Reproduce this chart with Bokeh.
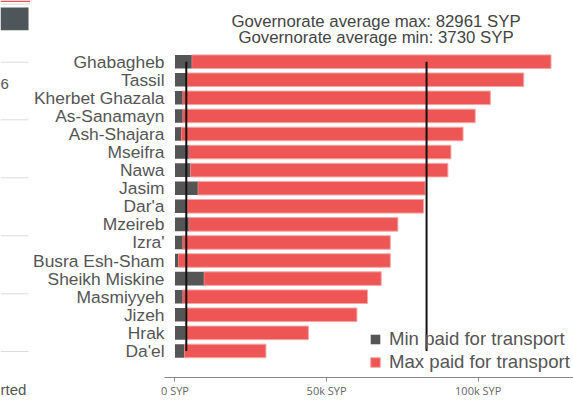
from bokeh.plotting import figure
from bokeh.layouts import row
from bokeh.models import (Range1d, FixedTicker, Label, Legend, LegendItem,
                          ColumnDataSource)
from bokeh.core.properties import value
from bokeh.embed import file_html
from bokeh.resources import INLINE

# ---------------- data ----------------
names = ["Ghabagheb", "Tassil", "Kherbet Ghazala", "As-Sanamayn", "Ash-Shajara",
         "Mseifra", "Nawa", "Jasim", "Dar'a", "Mzeireb", "Izra'",
         "Busra Esh-Sham", "Sheikh Miskine", "Masmiyyeh", "Jizeh", "Hrak", "Da'el"]
max_paid = [124000, 115000, 104000, 99000, 95000, 91000, 90000, 82500, 82000,
            73500, 71000, 71000, 68000, 63500, 60000, 44000, 30000]
min_paid = [5500, 4000, 2500, 2500, 2000, 4500, 5000, 7500, 4000,
            4500, 2500, 1000, 9500, 2500, 3500, 3500, 3000]
avg_max = 82961
avg_min = 3730
x_ticks = [0, 50000, 100000]
x_tick_labels = ["0 SYP", "50k SYP", "100k SYP"]
series_labels = ["Min paid for transport", "Max paid for transport"]

# fragments of the surrounding web page visible at the left edge
side_texts = ["6", "rted"]
side_text_y = [83, 389]
side_rule_y = [61.7, 119.3, 177.3, 235.3, 293.3, 351]

RED = "#EE5555"
GREY = "#555555"
TXT = "#555555"
FONT = "Liberation Sans"

# ---------------- left strip (page fragments) ----------------
s = figure(width=30, height=400, output_backend="svg", toolbar_location=None,
           x_range=Range1d(0, 30), y_range=Range1d(400, 0),
           x_axis_type=None, y_axis_type=None,
           min_border_left=0, min_border_right=0, min_border_top=0,
           min_border_bottom=0)
s.frame_align = False
s.outline_line_color = None
s.grid.visible = False
s.background_fill_color = "white"
s.border_fill_color = "white"
s.quad(left=[0], right=[53], top=[0], bottom=[1.5], fill_color=RED,
       line_color=None)
s.quad(left=[0], right=[120], top=[3], bottom=[4.6], fill_color="#E6E6E6",
       line_color=None)
s.quad(left=[0], right=[28], top=[7], bottom=[29.7], fill_color="#4E555B",
       line_color=None)
s.segment(x0=[0] * len(side_rule_y), x1=[28] * len(side_rule_y),
          y0=side_rule_y, y1=side_rule_y, line_color="#DDDDDD", line_width=1)
s.text(x=[0, 0], y=side_text_y, text=side_texts, text_font=value(FONT),
       text_font_size="15px", text_color=TXT, text_align="left",
       text_baseline="alphabetic")

# ---------------- main chart ----------------
n = len(names)
ypos = [n - 1 - i for i in range(n)]

src = ColumnDataSource(dict(y=ypos, name=names, mx=max_paid, mn=min_paid,
                            zero=[0] * n))

p = figure(width=543, height=400, output_backend="svg", toolbar_location=None,
           x_range=Range1d(-3454, 131414), y_range=Range1d(-1.469, 19.384),
           min_border_left=133, min_border_right=0, min_border_top=0,
           min_border_bottom=21)
p.frame_align = False
p.outline_line_color = None
p.grid.visible = False
p.background_fill_color = "white"
p.border_fill_color = "white"

red = p.hbar(y="y", left="mn", right="mx", height=0.75, source=src,
             fill_color=RED, line_color="#F4A6A6", line_width=1)
grey = p.hbar(y="y", left="zero", right="mn", height=0.75, source=src,
              fill_color=GREY, line_color=None)

# governorate average lines
p.segment(x0=[avg_min, avg_max], x1=[avg_min, avg_max],
          y0=[ypos[0], ypos[0]], y1=[ypos[-1], ypos[-1]],
          line_color="#111111", line_width=2)

# x axis
xa = p.xaxis[0]
xa.ticker = FixedTicker(ticks=x_ticks)
xa.major_label_overrides = {t: l for t, l in zip(x_ticks, x_tick_labels)}
xa.axis_line_color = "#888888"
xa.major_tick_line_color = "#888888"
xa.major_tick_out = 4
xa.major_tick_in = 0
xa.minor_tick_line_color = None
xa.major_label_standoff = 1
xa.major_label_text_font = "Open Sans"
xa.major_label_text_font_size = "11px"
xa.major_label_text_color = "#666666"

# y axis
ya = p.yaxis[0]
ya.ticker = FixedTicker(ticks=ypos)
ya.major_label_overrides = {y: nm for y, nm in zip(ypos, names)}
ya.axis_line_color = None
ya.major_tick_line_color = None
ya.minor_tick_line_color = None
ya.major_tick_out = 0
ya.major_tick_in = 0
ya.major_label_standoff = 0
ya.major_label_text_font = FONT
ya.major_label_text_font_size = "17.4px"
ya.major_label_text_color = TXT

# header text
for txt, yy in [(f"Governorate average max: {avg_max} SYP", 18.235),
                (f"Governorate average min: {avg_min} SYP", 17.322)]:
    p.add_layout(Label(x=66283, y=yy, text=txt, text_align="center",
                       text_baseline="alphabetic", text_font=FONT,
                       text_font_size="16.8px", text_color="#444444"))

# legend
legend = Legend(items=[LegendItem(label=series_labels[0], renderers=[grey]),
                       LegendItem(label=series_labels[1], renderers=[red])],
                location=(205, 4), orientation="vertical",
                label_text_font=FONT, label_text_font_size="18.6px",
                label_text_color=TXT, glyph_width=12, glyph_height=12,
                label_standoff=8, spacing=1, padding=0, margin=0,
                background_fill_alpha=0, border_line_color=None)
p.add_layout(legend)

layout = row(s, p, spacing=0)
open("out.html", "w").write(file_html(layout, INLINE))
